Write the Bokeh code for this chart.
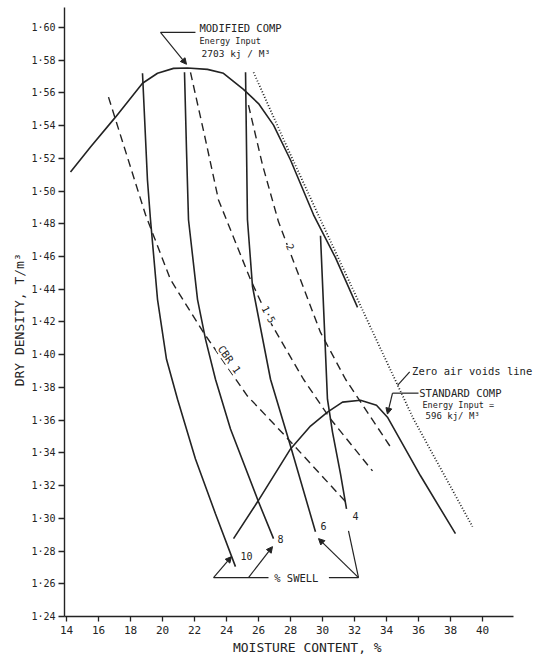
from bokeh.plotting import figure
from bokeh.models import Label, Arrow, NormalHead, FixedTicker
from bokeh.embed import file_html
from bokeh.resources import INLINE

# ---- data (moisture content %, dry density T/m3) ----
mod_x = [14.25, 15.5, 17.06, 18.75, 19.69, 20.69, 21.56, 22.81, 23.81, 25.06, 26.0, 26.94, 28.0, 29.44, 30.81, 32.19]
mod_y = [1.5117, 1.5269, 1.5452, 1.5659, 1.5720, 1.5750, 1.5752, 1.5744, 1.5720, 1.5622, 1.5535, 1.5403, 1.5190, 1.4855, 1.4593, 1.4289]

std_x = [24.44, 25.94, 28.0, 29.25, 30.31, 31.25, 32.375, 33.375, 34.06, 36.125, 38.31]
std_y = [1.2876, 1.3101, 1.3424, 1.3564, 1.3649, 1.3710, 1.3722, 1.3691, 1.3618, 1.3260, 1.2906]

zav_x = [25.69, 27.81, 29.875, 33.44, 35.69, 39.375]
zav_y = [1.5726, 1.5263, 1.4825, 1.4076, 1.3607, 1.2949]

swell10_x = [18.75, 19.06, 19.25, 19.69, 20.25, 20.94, 22.06, 23.31, 24.56]
swell10_y = [1.5720, 1.5068, 1.4825, 1.4337, 1.3972, 1.3728, 1.3363, 1.3028, 1.2705]
swell8_x = [21.375, 21.5, 21.625, 22.19, 22.69, 23.31, 24.25, 26.0, 26.94]
swell8_y = [1.5726, 1.5251, 1.4825, 1.4337, 1.4094, 1.3850, 1.3546, 1.3101, 1.2876]
swell6_x = [25.19, 25.31, 25.625, 26.75, 28.0, 29.56]
swell6_y = [1.5726, 1.4825, 1.4417, 1.3850, 1.3442, 1.2918]
swell4_x = [29.875, 30.125, 30.31, 30.625, 31.125, 31.5]
swell4_y = [1.4727, 1.4155, 1.3728, 1.3527, 1.3272, 1.3058]

cbr1_x = [16.625, 18.94, 20.5, 22.56, 25.31, 27.56, 31.56]
cbr1_y = [1.5574, 1.4855, 1.4459, 1.4136, 1.3747, 1.3515, 1.3089]
cbr15_x = [21.75, 22.625, 23.5, 25.5, 26.75, 28.81, 30.5, 33.125]
cbr15_y = [1.5726, 1.5342, 1.4946, 1.4459, 1.4197, 1.3850, 1.3607, 1.3290]
cbr2_x = [25.375, 26.25, 27.25, 28.5, 29.875, 31.44, 34.25]
cbr2_y = [1.5525, 1.5160, 1.4812, 1.4490, 1.4136, 1.3850, 1.3436]

x_ticks = [14, 16, 18, 20, 22, 24, 26, 28, 30, 32, 34, 36, 38, 40]
x_tick_labels = ["14", "16", "18", "20", "22", "24", "26", "28", "30", "32", "34", "36", "38", "40"]
y_ticks = [1.24, 1.26, 1.28, 1.30, 1.32, 1.34, 1.36, 1.38, 1.40, 1.42, 1.44, 1.46, 1.48, 1.50,
           1.52, 1.54, 1.56, 1.58, 1.60]
y_tick_labels = ["1·24", "1·26", "1·28", "1·30", "1·32", "1·34", "1·36", "1·38", "1·40", "1·42",
                 "1·44", "1·46", "1·48", "1·50", "1·52", "1·54", "1·56", "1·58", "1·60"]

INK = "#232323"
FONT = "DejaVu Sans Mono"

p = figure(width=534, height=657, x_range=(13.875, 43.25), y_range=(1.24, 1.6122),
           output_backend="svg", toolbar_location=None,
           min_border_left=64, min_border_right=0, min_border_top=7, min_border_bottom=39)
p.outline_line_color = None
p.grid.visible = False
p.background_fill_color = "white"
p.border_fill_color = "white"

for ax in (p.xaxis[0], p.yaxis[0]):
    ax.axis_line_color = INK
    ax.axis_line_width = 1.4
    ax.major_tick_line_color = INK
    ax.major_tick_line_width = 1.3
    ax.minor_tick_line_color = None
    ax.major_tick_in = 0
    ax.major_label_text_font = FONT
    ax.major_label_text_color = INK
    ax.axis_label_text_font = FONT
    ax.axis_label_text_font_style = "normal"
    ax.axis_label_text_font_size = "13px"
    ax.axis_label_text_color = INK

p.xaxis.ticker = FixedTicker(ticks=x_ticks)
p.xaxis.major_label_overrides = dict(zip(x_ticks, x_tick_labels))
p.xaxis.major_tick_out = 5
p.xaxis.major_label_text_font_size = "11px"
p.xaxis.major_label_standoff = 4
p.xaxis.bounds = (13.875, 41.94)
p.xaxis.axis_label = "\u00a0\u00a0\u00a0MOISTURE  CONTENT, %"
p.xaxis.axis_label_standoff = 3

p.yaxis.ticker = FixedTicker(ticks=y_ticks)
p.yaxis.major_label_overrides = dict(zip(y_ticks, y_tick_labels))
p.yaxis.major_tick_out = 6
p.yaxis.major_label_text_font_size = "10px"
p.yaxis.major_label_standoff = 3
p.yaxis.bounds = (1.24, 1.6122)
p.yaxis.axis_label = "DRY  DENSITY,  T/m³"
p.yaxis.axis_label_standoff = 1

# curves
p.line(mod_x, mod_y, line_color=INK, line_width=1.6)
p.line(std_x, std_y, line_color=INK, line_width=1.6)
p.line(zav_x, zav_y, line_color=INK, line_width=1.8, line_dash="1 2")
for xs, ys in ((swell10_x, swell10_y), (swell8_x, swell8_y), (swell6_x, swell6_y), (swell4_x, swell4_y)):
    p.line(xs, ys, line_color=INK, line_width=1.6)
for xs, ys in ((cbr1_x, cbr1_y), (cbr15_x, cbr15_y), (cbr2_x, cbr2_y)):
    p.line(xs, ys, line_color=INK, line_width=1.4, line_dash="8 5")

def lab(x, y, t, size, align="left", angle=0.0, bg=None, base="middle"):
    l = Label(x=x, y=y, text=t, text_font=FONT, text_font_size=size, text_color=INK,
              text_align=align, text_baseline=base, angle=angle)
    if bg:
        l.background_fill_color = bg
    p.add_layout(l)

# modified compaction annotation
p.line([19.875, 22.06], [1.597, 1.597], line_color=INK, line_width=1.2)
p.add_layout(Arrow(end=NormalHead(size=6, fill_color=INK, line_color=INK), line_color=INK,
                   line_width=1.2, x_start=19.875, y_start=1.597, x_end=21.5, y_end=1.5775))
lab(22.31, 1.5994, "MODIFIED COMP", "10.5px")
lab(22.31, 1.5915, "Energy Input", "8.5px")
lab(22.44, 1.5842, "2703 kj / M³", "9.5px")

# standard compaction annotation
p.line([34.375, 36.0], [1.3765, 1.3765], line_color=INK, line_width=1.2)
p.add_layout(Arrow(end=NormalHead(size=6, fill_color=INK, line_color=INK), line_color=INK,
                   line_width=1.2, x_start=34.375, y_start=1.3765, x_end=34.06, y_end=1.3637))
lab(36.05, 1.3765, "STANDARD COMP", "10.5px")
lab(36.25, 1.3692, "Energy Input =", "8.5px")
lab(36.44, 1.3625, "596 kj/ M³", "9px")

# zero air voids
p.line([34.69, 35.45], [1.3813, 1.3895], line_color=INK, line_width=1.2)
lab(35.6, 1.3899, "Zero air voids line", "10.5px")

# CBR labels
lab(28.0, 1.466, "2", "10px", align="center", angle=-1.19, bg="white")
lab(26.625, 1.4246, "1·5", "10px", align="center", angle=-1.08, bg="white")
lab(24.19, 1.3972, "CBR 1", "10.5px", align="center", angle=-0.96, bg="white")

# swell labels and leaders
lab(24.875, 1.2772, "10", "10px")
lab(27.19, 1.2876, "8", "10px")
lab(29.875, 1.2955, "6", "10px")
lab(31.875, 1.3016, "4", "10px")
lab(28.56, 1.2638, "%  SWELL", "10.5px", align="center")
p.line([23.19, 26.625], [1.2638, 1.2638], line_color=INK, line_width=1.2)
p.line([30.4, 32.25], [1.2638, 1.2638], line_color=INK, line_width=1.2)
p.line([32.25, 31.625], [1.2638, 1.2924], line_color=INK, line_width=1.2)
for xe, ye, xs in ((24.31, 1.2766, 23.19), (26.875, 1.2827, 25.375), (29.75, 1.2876, 32.25)):
    p.add_layout(Arrow(end=NormalHead(size=6, fill_color=INK, line_color=INK), line_color=INK,
                       line_width=1.2, x_start=xs, y_start=1.2638, x_end=xe, y_end=ye))

open("out.html", "w").write(file_html(p, INLINE))
